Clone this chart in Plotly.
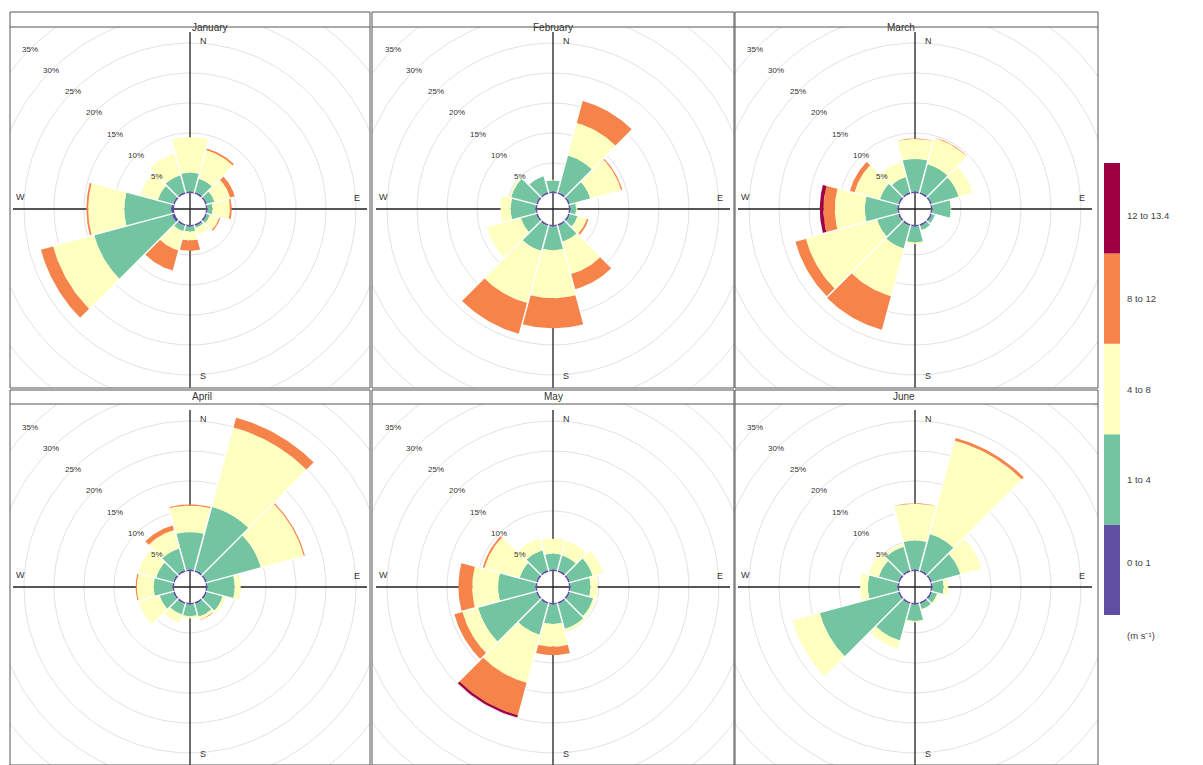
import numpy as np
import plotly.graph_objects as go

# ---- data -------------------------------------------------------------
months = ["January", "February", "March", "April", "May", "June"]
directions = [0, 30, 60, 90, 120, 150, 180, 210, 240, 270, 300, 330]
speed_bins = ["0 to 1", "1 to 4", "4 to 8", "8 to 12", "12 to 13.4"]
bin_colors = ["#5E4FA2", "#72C5A0", "#FFFFBF", "#F6844A", "#9E0142"]
pct_ticks = [5, 10, 15, 20, 25, 30, 35]
compass = ["N", "E", "S", "W"]
unit_label = "(m s\u207b\u00b9)"

# frequency (%) per speed bin (rows) and direction sector (columns)
freq_jan = [
    [0.3, 0.3, 0.3, 0.3, 0.3, 0.3, 0.3, 0.3, 0.5, 0.5, 0.3, 0.3],
    [3.1, 2.3, 1.3, 0.8, 0.5, 0.3, 0.8, 0.9, 13.4, 7.8, 2.6, 2.9],
    [5.9, 4.9, 2.7, 2.9, 1.6, 1.2, 1.5, 3.3, 7.1, 6.0, 3.0, 3.7],
    [0.0, 0.3, 0.8, 0.3, 0.2, 0.0, 1.7, 3.5, 2.1, 0.3, 0.0, 0.0],
    [0.0, 0.0, 0.0, 0.0, 0.0, 0.0, 0.0, 0.0, 0.0, 0.0, 0.0, 0.0],
]
freq_feb = [
    [0.3, 0.3, 0.3, 0.3, 0.3, 0.3, 0.3, 0.3, 0.3, 0.3, 0.3, 0.3],
    [1.8, 6.3, 3.5, 0.9, 1.3, 2.7, 3.9, 4.3, 2.6, 4.1, 4.3, 2.7],
    [0.1, 5.6, 5.3, 0.2, 1.6, 5.6, 8.0, 9.0, 5.9, 1.7, 0.3, 0.0],
    [0.0, 3.8, 0.2, 0.0, 0.3, 2.6, 5.0, 5.3, 0.0, 0.0, 0.0, 0.0],
    [0.0, 0.0, 0.0, 0.0, 0.0, 0.0, 0.0, 0.0, 0.0, 0.0, 0.0, 0.0],
]
freq_mar = [
    [0.3, 0.3, 0.3, 0.3, 0.3, 0.3, 0.3, 0.3, 0.3, 0.3, 0.3, 0.3],
    [5.4, 4.8, 4.6, 3.0, 0.5, 0.7, 2.6, 3.9, 3.6, 5.4, 3.1, 2.6],
    [3.3, 4.5, 2.4, 0.1, 0.0, 0.0, 0.3, 8.2, 12.3, 5.0, 4.4, 2.6],
    [0.1, 0.1, 0.0, 0.0, 0.0, 0.0, 0.0, 5.8, 1.8, 1.9, 0.8, 0.0],
    [0.0, 0.0, 0.0, 0.0, 0.0, 0.0, 0.0, 0.0, 0.0, 0.6, 0.0, 0.0],
]
freq_apr = [
    [0.3, 0.3, 0.3, 0.3, 0.3, 0.3, 0.3, 0.3, 0.3, 0.3, 0.3, 0.3],
    [6.2, 10.9, 9.3, 4.5, 2.7, 2.2, 1.9, 1.8, 2.3, 3.1, 2.9, 3.7],
    [4.4, 13.7, 7.4, 1.0, 0.5, 0.5, 0.4, 1.4, 3.6, 2.8, 3.1, 3.2],
    [0.2, 1.7, 0.2, 0.0, 0.0, 0.1, 0.0, 0.0, 0.0, 0.2, 0.0, 0.8],
    [0.0, 0.0, 0.0, 0.0, 0.0, 0.0, 0.0, 0.0, 0.0, 0.0, 0.0, 0.0],
]
freq_may = [
    [0.3, 0.3, 0.3, 0.3, 0.3, 0.3, 0.3, 0.3, 0.3, 0.3, 0.3, 0.3],
    [2.6, 2.5, 3.9, 3.3, 4.0, 4.3, 3.2, 5.3, 10.0, 6.2, 2.8, 3.4],
    [2.5, 2.5, 1.8, 1.2, 0.4, 0.4, 3.8, 8.3, 2.7, 4.3, 6.1, 2.0],
    [0.0, 0.0, 0.0, 0.0, 0.0, 0.0, 1.4, 5.6, 1.4, 2.3, 0.3, 0.0],
    [0.0, 0.0, 0.0, 0.0, 0.0, 0.0, 0.0, 0.4, 0.0, 0.0, 0.0, 0.0],
]
freq_jun = [
    [0.3, 0.3, 0.3, 0.3, 0.3, 0.3, 0.3, 0.3, 0.3, 0.3, 0.3, 0.3],
    [4.8, 6.2, 4.9, 1.8, 0.9, 0.9, 2.7, 6.3, 13.5, 4.9, 3.3, 4.0],
    [6.1, 16.1, 3.6, 0.8, 0.3, 0.1, 0.2, 1.4, 4.7, 1.3, 1.8, 0.5],
    [0.1, 0.5, 0.0, 0.0, 0.0, 0.0, 0.0, 0.0, 0.0, 0.0, 0.0, 0.0],
    [0.0, 0.0, 0.0, 0.0, 0.0, 0.0, 0.0, 0.0, 0.0, 0.0, 0.0, 0.0],
]
month_freqs = [freq_jan, freq_feb, freq_mar, freq_apr, freq_may, freq_jun]

# ---- geometry ---------------------------------------------------------
W, H = 1203, 765
PX_PER_PCT = 6.0           # screen pixels per percent of frequency
HOLE = 16 / PX_PER_PCT     # empty centre of each rose, in % units
HALF = 15                  # half sector width (deg)

# panel boxes in pixels: (left, right, centre_x) and (strip_top, top, bottom, centre_y)
cols = [(10, 370, 190), (372, 734, 553), (735, 1098, 915)]
rows = [(12, 27, 388, 209), (390, 404, 765, 587)]

FONT = "Liberation Sans, Arial, sans-serif"
TXT = "#333333"


def arc(r, a0, a1, n=24):
    t = np.radians(np.linspace(a0, a1, n))
    return r * np.sin(t), r * np.cos(t)


def wedge(r0, r1, bearing):
    xo, yo = arc(r1, bearing - HALF, bearing + HALF)
    xi, yi = arc(r0, bearing + HALF, bearing - HALF)
    xs = list(xo) + list(xi) + [xo[0]]
    ys = list(yo) + list(yi) + [yo[0]]
    return xs, ys


fig = go.Figure()
shapes, annotations = [], []

for k, (month, freq) in enumerate(zip(months, month_freqs)):
    r_i, c_i = divmod(k, 3)
    left, right, cx = cols[c_i]
    strip_top, top, bottom, cy = rows[r_i]
    idx = "" if k == 0 else str(k + 1)
    xa, ya = "x" + idx, "y" + idx

    fig.layout["xaxis" + idx] = dict(
        domain=[left / W, right / W],
        range=[-(cx - left) / PX_PER_PCT, (right - cx) / PX_PER_PCT],
        visible=False, fixedrange=True)
    fig.layout["yaxis" + idx] = dict(
        domain=[max(0, (H - bottom) / H), (H - top) / H],
        range=[-(bottom - cy) / PX_PER_PCT, (cy - top) / PX_PER_PCT],
        visible=False, fixedrange=True)

    # grid circles
    gx, gy = [], []
    for p in pct_ticks + [40]:
        x, y = arc(HOLE + p, 0, 360, 181)
        gx += list(x) + [None]
        gy += list(y) + [None]
    fig.add_trace(go.Scatter(x=gx, y=gy, mode="lines", xaxis=xa, yaxis=ya,
                             line=dict(color="#e2e2e2", width=1),
                             hoverinfo="skip", showlegend=False))

    # compass cross
    fig.add_trace(go.Scatter(x=[-29.5, 29.5, None, 0, 0],
                             y=[0, 0, None, -29.8, 29.5],
                             mode="lines", xaxis=xa, yaxis=ya,
                             line=dict(color="#1e1e1e", width=1.3),
                             hoverinfo="skip", showlegend=False))

    # stacked sectors, one trace per speed bin
    cum = np.zeros(len(directions))
    for b, (label, color) in enumerate(zip(speed_bins, bin_colors)):
        vals = np.array(freq[b], dtype=float)
        px, py = [], []
        for d, bearing in enumerate(directions):
            if vals[d] <= 0:
                continue
            xs, ys = wedge(HOLE + cum[d], HOLE + cum[d] + vals[d], bearing)
            px += xs + [None]
            py += ys + [None]
        cum += vals
        if px:
            fig.add_trace(go.Scatter(x=px, y=py, mode="lines", fill="toself",
                                     fillcolor=color, line=dict(width=0, color=color),
                                     xaxis=xa, yaxis=ya, hoverinfo="skip",
                                     showlegend=False, name=label))

    # thin white gaps between neighbouring sectors
    sx, sy = [], []
    n = len(directions)
    for d, bearing in enumerate(directions):
        reach = max(cum[d], cum[(d + 1) % n])
        if reach <= 0:
            continue
        t = np.radians(bearing + HALF)
        sx += [HOLE * np.sin(t), (HOLE + reach + 0.3) * np.sin(t), None]
        sy += [HOLE * np.cos(t), (HOLE + reach + 0.3) * np.cos(t), None]
    fig.add_trace(go.Scatter(x=sx, y=sy, mode="lines", xaxis=xa, yaxis=ya,
                             line=dict(color="white", width=1.5),
                             hoverinfo="skip", showlegend=False))

    # percentage labels along the north-west diagonal
    for p in pct_ticks:
        r = HOLE + p
        annotations.append(dict(
            x=-r * np.sin(np.radians(45)), y=r * np.cos(np.radians(45)),
            xref=xa, yref=ya, text=f"{p}%", showarrow=False,
            font=dict(family=FONT, size=8, color=TXT)))

    # compass letters
    for letter, (lx, ly) in zip(compass, [(2.2, 28.0), (27.8, 1.8), (2.2, -27.8), (-28.3, 2.0)]):
        annotations.append(dict(x=lx, y=ly, xref=xa, yref=ya, text=letter,
                                showarrow=False,
                                font=dict(family=FONT, size=9, color=TXT)))

    # panel frame and strip
    frame = dict(type="rect", xref="paper", yref="paper",
                 line=dict(color="#555555", width=1), fillcolor="rgba(0,0,0,0)")
    shapes.append(dict(frame, x0=left / W, x1=right / W,
                       y0=(H - bottom) / H, y1=(H - strip_top) / H))
    shapes.append(dict(type="line", xref="paper", yref="paper",
                       x0=left / W, x1=right / W, y0=(H - top) / H, y1=(H - top) / H,
                       line=dict(color="#555555", width=1)))
    annotations.append(dict(x=(left + right) / 2 / W, y=(H - (strip_top + top) / 2) / H,
                            xref="paper", yref="paper", text=month, showarrow=False,
                            font=dict(family=FONT, size=10, color=TXT)))

# ---- colour key -------------------------------------------------------
key_x0, key_x1, key_top, key_bottom = 1104, 1120, 163, 615
seg = (key_bottom - key_top) / len(speed_bins)
for b, (label, color) in enumerate(zip(speed_bins, bin_colors)):
    y_hi = key_bottom - b * seg
    y_lo = y_hi - seg
    shapes.append(dict(type="rect", xref="paper", yref="paper",
                       x0=key_x0 / W, x1=key_x1 / W,
                       y0=(H - y_hi) / H, y1=(H - y_lo) / H,
                       line=dict(width=0), fillcolor=color))
    annotations.append(dict(x=1125 / W, y=(H - (y_hi + y_lo) / 2) / H,
                            xref="paper", yref="paper", text=label,
                            xanchor="left", showarrow=False,
                            font=dict(family=FONT, size=9.5, color="#444444")))
annotations.append(dict(x=1125 / W, y=(H - 643) / H, xref="paper", yref="paper",
                        text=unit_label, xanchor="left", showarrow=False,
                        font=dict(family=FONT, size=9.5, color="#444444")))

fig.update_layout(width=W, height=H, margin=dict(l=0, r=0, t=0, b=0),
                  paper_bgcolor="white", plot_bgcolor="white",
                  shapes=shapes, annotations=annotations, showlegend=False)

fig.write_html("out.html")
